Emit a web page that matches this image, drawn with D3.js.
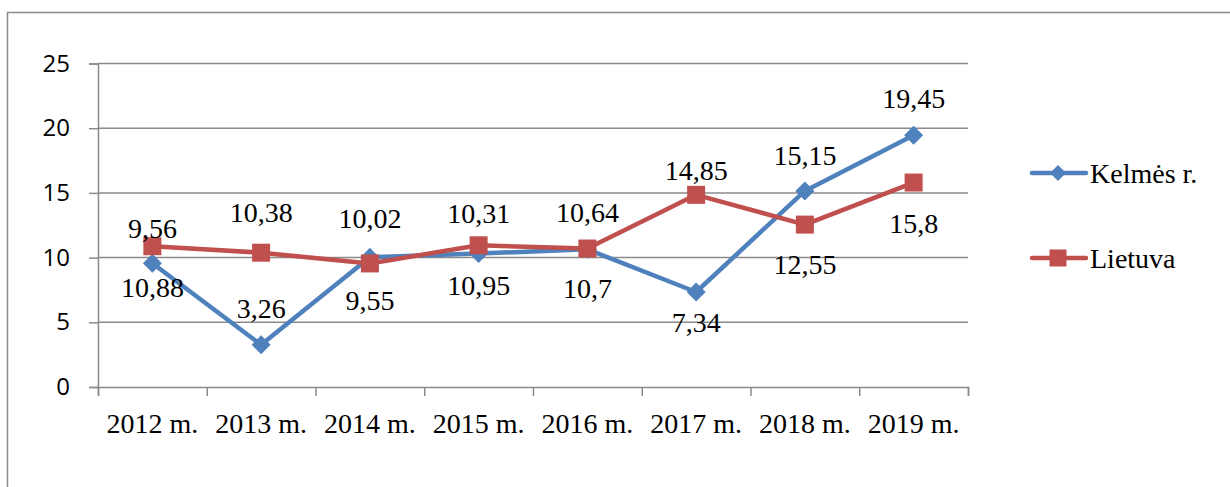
<!DOCTYPE html>
<html>
<head>
<meta charset="utf-8">
<script src="https://cdn.jsdelivr.net/npm/d3@7"></script>
<style>
  html, body { margin: 0; padding: 0; background: #fff; }
  svg { display: block; }
  .serif { font-family: "Liberation Serif", "Times New Roman", Tinos, "DejaVu Serif", "Noto Serif", serif; }
  .sans { font-family: "Open Sans", "Liberation Sans", sans-serif; }
</style>
</head>
<body>
<svg id="chart" width="1230" height="487"></svg>
<script>
// ---- data ----
const categories = ["2012 m.", "2013 m.", "2014 m.", "2015 m.", "2016 m.", "2017 m.", "2018 m.", "2019 m."];
const kelmes = [9.56, 3.26, 10.02, 10.31, 10.64, 7.34, 15.15, 19.45];
const lietuva = [10.88, 10.38, 9.55, 10.95, 10.7, 14.85, 12.55, 15.8];
const seriesNames = ["Kelmės r.", "Lietuva"];
const yTicks = [0, 5, 10, 15, 20, 25];

// ---- label layout (pixel offsets from each point, not data) ----
const kelmesLabelDy = [-35, -37, -39, -40, -37, 30, -36, -37];
const lietuvaLabelDy = [41, -40, 37, 40, 40, -25, 40, 41];

(function () {
const svg = d3.select("#chart");
const blue = "#4F81BD", red = "#C0504D", grid = "#8a8a8a";
const pLeft = 98, pRight = 968, pTop = 63.5, pBottom = 387;

const x = d3.scaleBand().domain(categories).range([pLeft, pRight]);
const y = d3.scaleLinear().domain([0, 25]).range([pBottom, pTop]);

// outer frame (left + top edges visible)
svg.append("path")
  .attr("d", `M7.5,487 L7.5,12.5 L1230,12.5`)
  .attr("fill", "none").attr("stroke", grid).attr("stroke-width", 1.5);

// gridlines
svg.append("g").selectAll("line").data(yTicks.filter(d => d > 0)).join("line")
  .attr("x1", pLeft).attr("x2", pRight)
  .attr("y1", d => y(d)).attr("y2", d => y(d))
  .attr("stroke", grid).attr("stroke-width", 1.5);

// y axis
const yAxis = svg.append("g").attr("transform", `translate(${pLeft},0)`)
  .call(d3.axisLeft(y).tickValues(yTicks).tickSize(9).tickPadding(19).tickFormat(d3.format("d")));
yAxis.attr("font-family", null).attr("font-size", null);
yAxis.select(".domain").attr("stroke", grid).attr("stroke-width", 1.5);
yAxis.selectAll(".tick line").attr("stroke", grid).attr("stroke-width", 1.5);
yAxis.selectAll(".tick text").attr("class", "sans")
  .style("font-size", "24px").attr("fill", "#000");

// x axis
const xTickScale = d3.scaleLinear().domain([0, categories.length]).range([pLeft, pRight]);
const xAxisG = svg.append("g").attr("transform", `translate(0,${pBottom})`);
xAxisG.call(d3.axisBottom(xTickScale).tickValues(d3.range(categories.length + 1)).tickSize(9).tickFormat(""));
xAxisG.select(".domain").attr("stroke", grid).attr("stroke-width", 1.5);
xAxisG.selectAll(".tick line").attr("stroke", grid).attr("stroke-width", 1.5);
// category labels
svg.append("g").selectAll("text").data(categories).join("text")
  .attr("class", "serif")
  .attr("x", d => x(d) + x.bandwidth() / 2)
  .attr("y", 433)
  .attr("text-anchor", "middle")
  .style("font-size", "28px")
  .attr("fill", "#000")
  .text(d => d);

const cx = (i) => x(categories[i]) + x.bandwidth() / 2;
const line = d3.line().x((d, i) => cx(i)).y(d => y(d));

function diamondPath(r) { return `M0,${-r} L${r},0 L0,${r} L${-r},0 Z`; }

svg.append("path").datum(kelmes).attr("d", line)
  .attr("fill", "none").attr("stroke", blue).attr("stroke-width", 4.5).attr("stroke-linejoin", "round");
svg.append("g").selectAll("path").data(kelmes).join("path")
  .attr("transform", (d, i) => `translate(${cx(i)},${y(d)})`)
  .attr("d", diamondPath(9.5)).attr("fill", blue);

svg.append("path").datum(lietuva).attr("d", line)
  .attr("fill", "none").attr("stroke", red).attr("stroke-width", 4.5).attr("stroke-linejoin", "round");
svg.append("g").selectAll("rect").data(lietuva).join("rect")
  .attr("x", (d, i) => cx(i) - 9).attr("y", d => y(d) - 9)
  .attr("width", 18).attr("height", 18).attr("fill", red);

const fmt = v => String(v).replace(".", ",");

function labels(vals, dys) {
  svg.append("g").selectAll("text").data(vals).join("text")
    .attr("class", "serif")
    .attr("x", (d, i) => cx(i))
    .attr("y", (d, i) => y(d) + dys[i])
    .attr("dy", "0.35em")
    .attr("text-anchor", "middle")
    .style("font-size", "28px")
    .attr("fill", "#000")
    .text(d => fmt(d));
}
labels(kelmes, kelmesLabelDy);
labels(lietuva, lietuvaLabelDy);

// legend
const legendY = [173, 258];
const legendColors = [blue, red];
seriesNames.forEach((name, i) => {
  const g = svg.append("g");
  g.append("line").attr("x1", 1032).attr("x2", 1086).attr("y1", legendY[i]).attr("y2", legendY[i])
    .attr("stroke", legendColors[i]).attr("stroke-width", 4.5).attr("stroke-linecap", "round");
  if (i === 0) {
    g.append("path").attr("transform", `translate(1058,${legendY[i]})`).attr("d", diamondPath(8)).attr("fill", blue);
  } else {
    g.append("rect").attr("x", 1058 - 8.5).attr("y", legendY[i] - 8.5).attr("width", 17).attr("height", 17).attr("fill", red);
  }
  g.append("text").attr("class", "serif").attr("x", 1090).attr("y", legendY[i]).attr("dy", "0.35em")
    .style("font-size", "28px").attr("fill", "#000").text(name);
});
})();
</script>
</body>
</html>
